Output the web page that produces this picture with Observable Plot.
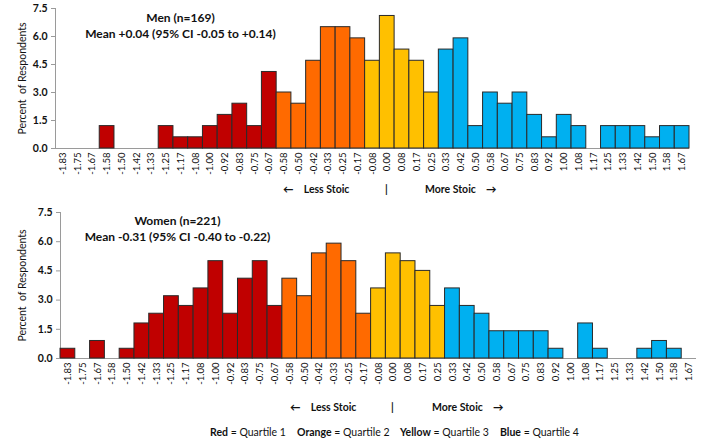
<!DOCTYPE html>
<html>
<head>
<meta charset="utf-8">
<script src="https://cdn.jsdelivr.net/npm/d3@7"></script>
<script src="https://cdn.jsdelivr.net/npm/@observablehq/plot@0.6"></script>
<style>
  body { margin: 0; background: #fff; font-family: Lato, "Open Sans", sans-serif; }
  #root { position: relative; width: 708px; height: 439px; overflow: hidden; }
  .abs { position: absolute; white-space: nowrap; color: #111; }
  .ann { font-size: 10.5px; font-weight: 700; transform: translateY(-50%); }
  .leg { font-size: 10.5px; transform: translateY(-50%); }
  .leg b { font-weight: 700; }
</style>
</head>
<body>
<div id="root"></div>
<script>
// Score categories (x axis tick labels)
const labels = ["-1.83","-1.75","-1.67","-1.58","-1.50","-1.42","-1.33","-1.25","-1.17","-1.08","-1.00","-0.92","-0.83","-0.75","-0.67","-0.58","-0.50","-0.42","-0.33","-0.25","-0.17","-0.08","0.00","0.08","0.17","0.25","0.33","0.42","0.50","0.58","0.67","0.75","0.83","0.92","1.00","1.08","1.17","1.25","1.33","1.42","1.50","1.58","1.67"];
// Percent of respondents, men (n=169)
const men = [0,0,0,1.2,0,0,0,1.2,0.6,0.6,1.2,1.8,2.4,1.2,4.1,3.0,2.4,4.7,6.5,6.5,5.9,4.7,7.1,5.3,4.7,3.0,5.3,5.9,1.2,3.0,2.4,3.0,1.8,0.6,1.8,1.2,0,1.2,1.2,1.2,0.6,1.2,1.2];
// Percent of respondents, women (n=221)
const women = [0.5,0,0.9,0,0.5,1.8,2.3,3.2,2.7,3.6,5.0,2.3,4.1,5.0,2.7,4.1,3.2,5.4,5.9,5.0,2.3,3.6,5.4,5.0,4.5,2.7,3.6,2.7,2.3,1.4,1.4,1.4,1.4,0.5,0,1.8,0.5,0,0,0.5,0.9,0.5,0];
// First category of each quartile
const quartileStarts = ["-1.83","-0.58","-0.08","0.33"];
const quartileNames = ["Red","Orange","Yellow","Blue"];
const quartileColors = ["#C00000","#FF6A00","#FFC000","#00B0F0"];
const yTicks = [0,1.5,3.0,4.5,6.0,7.5];

const startIdx = quartileStarts.map(s => labels.indexOf(s));
function quartileOf(i) { let q = 0; startIdx.forEach((s, k) => { if (i >= s) q = k; }); return q; }
function rows(values) {
  return labels.map((l, i) => ({label: l, value: values[i], q: quartileOf(i)})).filter(d => d.value > 0);
}

const font = 'Lato, "Open Sans", sans-serif';

function chart({values, title1, title2, height, mt, mb, ml, mr, tdx, tdy}) {
  return Plot.plot({
    width: 708, height, marginTop: mt, marginBottom: mb, marginLeft: ml, marginRight: mr,
    style: {fontFamily: font, fontSize: "9.5px", color: "#111", background: "#fff", overflow: "visible"},
    x: {domain: labels, padding: 0, label: null},
    y: {domain: [0, 7.5], label: null},
    marks: [
      Plot.frame({anchor: "left", stroke: "#9a9a9a"}),
      Plot.ruleY([0], {stroke: "#9a9a9a"}),
      Plot.barY(rows(values), {x: "label", y: "value", fill: d => quartileColors[d.q], stroke: "#2a2a2a", strokeWidth: 1, inset: 0}),
      Plot.axisX({tickRotate: -90, tickSize: 0, tickPadding: 4, fontSize: 9.5, label: null}),
      Plot.axisY({ticks: yTicks, tickFormat: d => d.toFixed(1), tickSize: 4, stroke: "#9a9a9a", tickPadding: 4, fontSize: 10.5, fontWeight: "bold", label: null}),
      Plot.text(["Percent  of Respondents"], {frameAnchor: "left", rotate: -90, dx: -(ml - 22), fontSize: 10.5, textAnchor: "middle", fill: "#111"}),
      Plot.text([title1], {frameAnchor: "top-left", dx: tdx, dy: tdy, textAnchor: "middle", lineAnchor: "middle", fontSize: 12, fontWeight: "bold", fill: "#111"}),
      Plot.text([title2], {frameAnchor: "top-left", dx: tdx, dy: tdy + 16, textAnchor: "middle", lineAnchor: "middle", fontSize: 12, fontWeight: "bold", fill: "#111"})
    ]
  });
}

const root = document.getElementById("root");
function place(el, top, left) { el.style.position = "absolute"; el.style.top = top + "px"; el.style.left = left + "px"; root.appendChild(el); }

place(chart({values: men, title1: "Men (n=169)", title2: "Mean +0.04 (95% CI -0.05 to +0.14)", height: 185, mt: 8, mb: 37, ml: 55, mr: 19, tdx: 125, tdy: 10}), 0, 0);
place(chart({values: women, title1: "Women (n=221)", title2: "Mean -0.31 (95% CI -0.40 to -0.22)", height: 200, mt: 12, mb: 42, ml: 60, mr: 12, tdx: 117, tdy: 9}), 200, 0);

function text(html, top, left, cls) {
  const d = document.createElement("div");
  d.className = "abs " + cls;
  d.innerHTML = html;
  d.style.top = top + "px"; d.style.left = left + "px";
  root.appendChild(d);
}
text("←&nbsp;&nbsp;&nbsp; Less Stoic", 189, 283, "ann");
text("|", 189, 385, "ann");
text("More Stoic&nbsp;&nbsp;&nbsp; →", 189, 425, "ann");
text("←&nbsp;&nbsp;&nbsp; Less Stoic", 407, 290, "ann");
text("|", 407, 391, "ann");
text("More Stoic&nbsp;&nbsp;&nbsp; →", 407, 432, "ann");
const legLeft = [210, 297, 400, 500];
quartileNames.forEach((n, i) => text(`<b>${n}</b> = Quartile ${i + 1}`, 432, legLeft[i], "leg"));
</script>
</body>
</html>
